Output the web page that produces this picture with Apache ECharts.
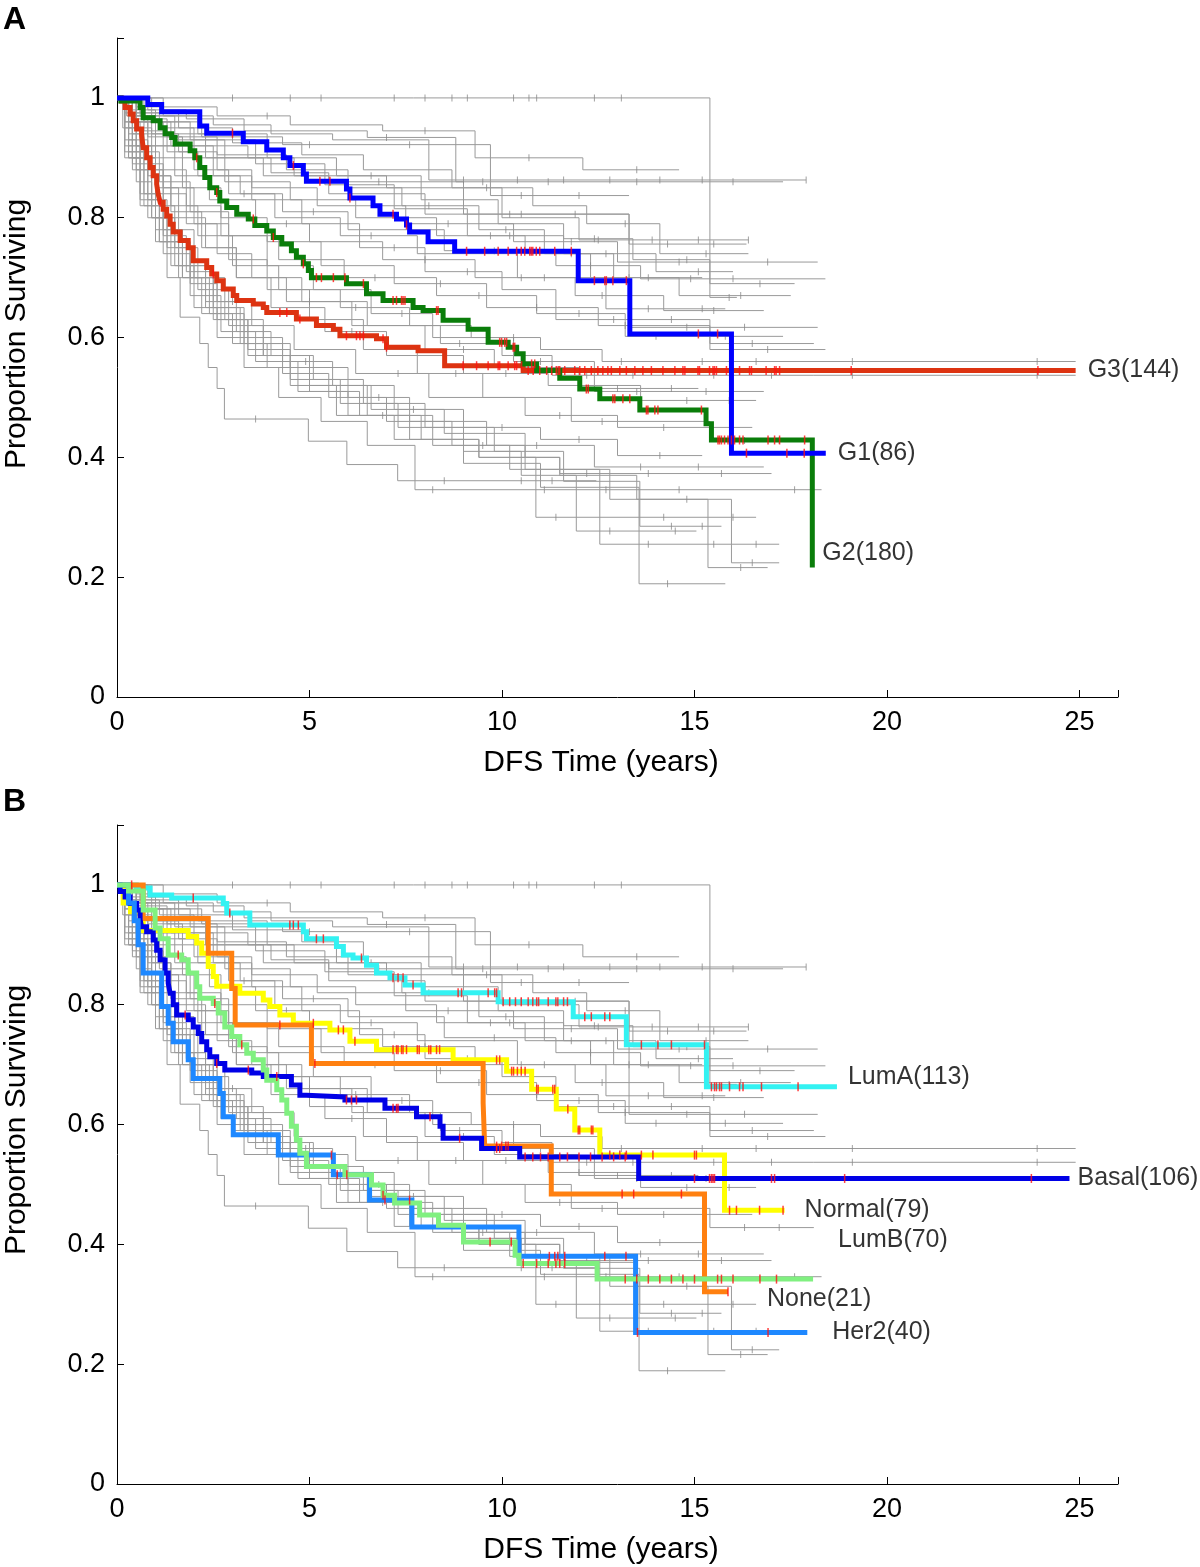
<!DOCTYPE html>
<html><head><meta charset="utf-8">
<script src="https://cdn.jsdelivr.net/npm/echarts@6/dist/echarts.min.js"></script>
<style>html,body{margin:0;padding:0;background:#fff}#c{width:1200px;height:1567px}</style>
</head><body><div id="c"></div>
<script>
// ---------- background (gray) Kaplan-Meier curves: [time, survival after step] ----------
const grayCurves = [
 [[0,1],[15.4,0.667],[16.1,0.667]],
 [[0,1],[0.5,0.985],[1.2,0.97],[2.5,0.955],[4.0,0.94],[5.6,0.93],[8.1,0.863],[17.9,0.863]],
 [[0,1],[0.8,0.98],[1.8,0.965],[3.3,0.945],[6.5,0.934],[8.8,0.86],[17.3,0.86]],
 [[0,1],[0.3,0.98],[1.0,0.96],[2.2,0.935],[4.3,0.922],[9.7,0.837],[13.3,0.837]],
 [[0,1],[0.4,0.975],[1.1,0.95],[2.0,0.92],[3.4,0.9],[4.6,0.87],[7.0,0.85],[10.0,0.8],[12.0,0.763],[16.4,0.763]],
 [[0,1],[0.6,0.97],[1.5,0.93],[2.8,0.9],[4.0,0.875],[5.5,0.86],[9.0,0.806],[13.3,0.756],[16.35,0.756]],
 [[0,1],[0.3,0.97],[0.9,0.94],[1.6,0.91],[2.6,0.88],[3.5,0.85],[5.2,0.82],[7.5,0.79],[10.3,0.76],[13.0,0.726],[18.2,0.726]],
 [[0,1],[0.2,0.975],[0.7,0.945],[1.3,0.91],[2.1,0.87],[3.2,0.84],[4.3,0.81],[6.0,0.78],[8.5,0.745],[11.4,0.72],[13.6,0.698],[18.4,0.698]],
 [[0,1],[0.5,0.96],[1.2,0.92],[2.0,0.88],[2.9,0.84],[4.1,0.8],[5.8,0.77],[7.8,0.74],[10.4,0.7],[12.7,0.648],[15.8,0.648]],
 [[0,1],[0.3,0.96],[0.8,0.92],[1.5,0.87],[2.4,0.83],[3.6,0.79],[5.0,0.76],[6.9,0.73],[9.3,0.7],[11.9,0.67],[14.2,0.645],[16.8,0.645]],
 [[0,1],[0.4,0.97],[1.0,0.94],[2.3,0.9],[3.8,0.87],[5.5,0.84],[8.0,0.806],[13.3,0.617],[18.2,0.617]],
 [[0,1],[0.2,0.96],[0.6,0.91],[1.1,0.86],[1.9,0.81],[2.9,0.77],[4.2,0.73],[5.9,0.7],[8.3,0.67],[10.9,0.64],[13.2,0.602],[17.3,0.602]],
 [[0,1],[0.3,0.95],[0.9,0.9],[1.7,0.85],[2.7,0.8],[3.9,0.76],[5.3,0.72],[7.2,0.69],[9.6,0.65],[12.5,0.62],[15.4,0.59],[18.1,0.59]],
 [[0,1],[0.5,0.96],[1.4,0.92],[2.5,0.87],[3.5,0.83],[4.8,0.79],[6.3,0.75],[8.0,0.71],[10.0,0.68],[11.4,0.63],[15.4,0.58],[18.4,0.58]],
 [[0,1],[0.2,0.96],[0.5,0.92],[0.9,0.87],[1.4,0.82],[2.1,0.77],[3.0,0.72],[4.2,0.68],[5.8,0.65],[7.6,0.62],[9.2,0.6],[11.0,0.58],[12.6,0.56],[24.9,0.56]],
 [[0,1],[0.3,0.94],[0.7,0.89],[1.2,0.84],[1.8,0.79],[2.6,0.74],[3.5,0.7],[4.8,0.66],[6.5,0.62],[8.4,0.59],[10.0,0.57],[11.3,0.537],[24.9,0.537]],
 [[0,1],[0.2,0.95],[0.6,0.9],[1.0,0.85],[1.6,0.8],[2.3,0.75],[3.1,0.7],[4.4,0.66],[6.1,0.62],[8.0,0.58],[9.8,0.55],[12.0,0.515],[15.1,0.515]],
 [[0,1],[0.4,0.94],[1.0,0.88],[1.8,0.82],[2.7,0.77],[3.9,0.72],[5.1,0.68],[6.6,0.64],[8.2,0.6],[10.3,0.56],[12.4,0.51],[16.8,0.51]],
 [[0,1],[0.3,0.93],[0.8,0.87],[1.4,0.81],[2.2,0.75],[3.1,0.7],[4.0,0.65],[5.4,0.61],[7.0,0.57],[9.0,0.54],[11.2,0.52],[13.6,0.495],[16.6,0.495]],
 [[0,1],[0.2,0.93],[0.5,0.86],[0.9,0.8],[1.3,0.75],[1.9,0.7],[2.6,0.66],[3.5,0.62],[4.6,0.58],[6.2,0.54],[8.1,0.5],[10.6,0.47],[13.0,0.45],[16.5,0.45]],
 [[0,1],[0.5,0.92],[1.2,0.85],[2.0,0.79],[2.9,0.73],[3.9,0.68],[5.0,0.63],[6.4,0.58],[7.8,0.54],[9.5,0.5],[11.8,0.46],[15.4,0.428],[18.1,0.428]],
 [[0,1],[0.3,0.92],[0.7,0.84],[1.2,0.77],[1.8,0.71],[2.5,0.65],[3.3,0.6],[4.3,0.56],[5.6,0.52],[7.2,0.48],[9.0,0.45],[11.0,0.43],[13.0,0.403],[15.2,0.403]],
 [[0,1],[0.2,0.91],[0.6,0.83],[1.1,0.76],[1.7,0.7],[2.4,0.64],[3.3,0.59],[4.5,0.55],[6.0,0.5],[7.6,0.46],[9.6,0.42],[12.4,0.384],[16.8,0.384]],
 [[0,1],[0.4,0.9],[0.9,0.82],[1.5,0.75],[2.1,0.68],[2.9,0.62],[3.8,0.57],[5.0,0.52],[6.6,0.48],[8.5,0.44],[10.6,0.4],[11.5,0.373],[17.0,0.373]],
 [[0,1],[0.15,0.95],[0.4,0.89],[0.7,0.82],[1.0,0.76],[1.3,0.7],[1.64,0.634],[2.15,0.59],[2.37,0.55],[2.6,0.515],[2.79,0.464],[4.97,0.427],[5.97,0.388],[7.29,0.361],[12.45,0.361]],
 [[0,1],[0.3,0.9],[0.8,0.8],[1.4,0.72],[2.0,0.65],[2.6,0.6],[3.3,0.55],[4.2,0.5],[5.3,0.46],[6.5,0.42],[7.74,0.346],[18.3,0.346]],
 [[0,1],[0.2,0.92],[0.6,0.84],[1.1,0.76],[1.6,0.7],[2.2,0.64],[3.0,0.59],[3.9,0.55],[5.0,0.51],[6.3,0.47],[7.9,0.43],[9.4,0.4],[10.88,0.3],[16.6,0.3]],
 [[0,1],[0.4,0.9],[1.0,0.8],[1.6,0.72],[2.3,0.66],[3.1,0.61],[4.0,0.57],[5.1,0.53],[6.4,0.49],[8.0,0.45],[9.8,0.41],[11.6,0.36],[13.58,0.285],[15.7,0.285]],
 [[0,1],[0.3,0.91],[0.8,0.83],[1.3,0.76],[1.9,0.69],[2.6,0.63],[3.4,0.58],[4.5,0.53],[5.8,0.49],[7.3,0.45],[9.0,0.41],[10.5,0.37],[11.93,0.277],[15.05,0.277]],
 [[0,1],[0.5,0.88],[1.2,0.78],[2.0,0.7],[2.8,0.63],[3.8,0.57],[5.0,0.52],[6.5,0.47],[8.2,0.42],[10.2,0.38],[12.54,0.255],[17.2,0.255]],
 [[0,1],[0.2,0.9],[0.6,0.82],[1.2,0.74],[1.9,0.67],[2.7,0.61],[3.6,0.56],[4.7,0.51],[6.0,0.47],[7.6,0.43],[9.4,0.4],[11.5,0.37],[13.5,0.33],[15.96,0.224],[17.2,0.224]],
 [[0,1],[0.3,0.9],[0.9,0.8],[1.5,0.72],[2.3,0.65],[3.2,0.59],[4.3,0.54],[5.5,0.5],[7.0,0.46],[8.7,0.42],[10.6,0.38],[12.8,0.33],[15.35,0.216],[16.9,0.216]],
 [[0,1],[0.4,0.88],[1.0,0.78],[1.7,0.7],[2.5,0.63],[3.4,0.57],[4.5,0.52],[5.7,0.47],[7.2,0.43],[9.0,0.39],[11.0,0.35],[13.56,0.189],[15.8,0.189]],
 [[0,1],[0.6,0.975],[1.6,0.95],[3.0,0.925],[4.8,0.905],[6.4,0.88],[8.7,0.85],[10.8,0.82],[12.2,0.79],[14.1,0.74],[16.4,0.74]],
 [[0,1],[0.9,0.97],[2.1,0.94],[3.9,0.9],[5.7,0.87],[7.9,0.83],[9.9,0.79],[11.6,0.765],[13.4,0.73],[15.4,0.69],[17.6,0.69]],
 [[0,1],[0.4,0.965],[1.3,0.935],[2.6,0.905],[4.4,0.88],[6.0,0.85],[7.4,0.82],[9.4,0.78],[11.1,0.74],[12.9,0.7],[15.2,0.7]],
 [[0,1],[0.7,0.96],[1.9,0.93],[3.6,0.89],[5.4,0.855],[7.2,0.815],[9.1,0.77],[11.6,0.74],[14.0,0.71],[16.0,0.71]],
 [[0,1],[0.25,0.97],[0.8,0.935],[1.7,0.9],[2.8,0.86],[4.5,0.83],[6.2,0.8],[8.3,0.77],[10.6,0.74],[12.3,0.7],[14.6,0.67],[17.5,0.67]],
 [[0,1],[1.2,0.985],[2.6,0.97],[4.5,0.955],[6.9,0.945],[9.3,0.9],[12.1,0.88],[14.6,0.88]]
];
const grayCensor = [
 [3.0,4.5,5.3,7.2,8.0,8.7,9.1,10.3,10.7,10.9,12.4,13.1,15.9],
 [9.0,10.4,11.6,12.8,14.1,15.2,17.9],
 [7.0,9.5,11.2,13.5,16.0],
 [5.0,7.6,10.5,12.0],
 [12.5,13.9,15.1,16.4],
 [6.8,10.2,14.3,15.5],
 [8.6,11.8,14.6,16.9],
 [5.1,9.8,12.3,14.9,16.0],
 [3.3,6.6,11.1,13.8,15.2],
 [4.4,8.0,10.5,12.6,15.5],
 [10.5,11.9,14.8,16.3],
 [6.7,9.4,12.0,14.0,15.8],
 [8.4,10.9,13.2,16.5],
 [7.2,9.1,12.9,14.4,16.9],
 [6.2,10.3,13.1,15.2,16.6,19.1,23.9],
 [8.9,12.2,13.4,15.5,17.0,19.1,23.9],
 [5.0,9.0,13.0,14.4],
 [7.4,11.0,13.5,15.3],
 [6.1,10.1,12.0,14.8,15.9],
 [3.0,7.3,11.5,14.2],
 [8.8,12.6,16.3,17.2],
 [4.9,10.0,12.0,14.1],
 [6.8,10.9,13.6,15.1],
 [7.7,12.2,13.8,15.7],
 [3.6,8.5,10.5,11.3],
 [8.2,11.1,12.7,14.6,17.6],
 [11.4,14.2,16.0],
 [14.4,15.2],
 [12.8,14.5],
 [13.8,15.5,16.6],
 [6.9,14.8,16.5],
 [9.5,16.2],
 [14.3],
 [9.6,13.2,15.3],
 [6.6,12.4,14.8,16.7],
 [8.1,10.1,13.8],
 [10.2,12.7,15.1],
 [9.7,11.8,13.3,16.2],
 [3.9,8.0,10.7,13.5]
];

// ---------- Panel A: grade ----------
const g1Curve = [[0,1],[0.8,0.989],[1.16,0.977],[2.15,0.953],[2.33,0.941],[3.28,0.927],[3.89,0.913],[4.32,0.9],[4.49,0.887],[4.84,0.873],[4.92,0.861],[5.96,0.848],[6.05,0.833],[6.65,0.82],[6.83,0.806],[7.26,0.798],[7.52,0.788],[7.6,0.776],[8.08,0.76],[8.77,0.744],[11.98,0.695],[13.32,0.606],[15.96,0.407],[18.41,0.407]];
const g2Curve = [[0,1],[0.1,0.995],[0.6,0.984],[0.68,0.967],[0.94,0.962],[1.12,0.95],[1.25,0.94],[1.42,0.934],[1.51,0.923],[1.9,0.912],[2.02,0.9],[2.15,0.884],[2.28,0.867],[2.41,0.85],[2.59,0.842],[2.67,0.828],[2.85,0.817],[3.11,0.806],[3.41,0.798],[3.58,0.787],[3.89,0.778],[4.06,0.767],[4.28,0.756],[4.53,0.745],[4.66,0.734],[4.84,0.723],[4.97,0.712],[5.05,0.7],[5.96,0.69],[6.48,0.673],[6.91,0.662],[7.69,0.65],[7.95,0.645],[8.47,0.629],[9.12,0.614],[9.64,0.592],[10.16,0.584],[10.38,0.573],[10.55,0.556],[10.9,0.545],[11.5,0.532],[12.02,0.514],[12.54,0.498],[13.58,0.479],[15.3,0.456],[15.44,0.429],[18.06,0.429],[18.06,0.216]];
const g3Curve = [[0,1],[0.12,0.995],[0.21,0.984],[0.34,0.973],[0.42,0.962],[0.51,0.948],[0.64,0.937],[0.68,0.917],[0.77,0.9],[0.86,0.884],[0.94,0.87],[1.03,0.856],[1.07,0.839],[1.12,0.826],[1.2,0.814],[1.29,0.803],[1.38,0.789],[1.46,0.776],[1.64,0.762],[1.85,0.75],[1.98,0.728],[2.33,0.717],[2.46,0.706],[2.59,0.695],[2.76,0.681],[3.02,0.67],[3.11,0.662],[3.54,0.656],[3.8,0.65],[3.89,0.642],[4.66,0.631],[5.18,0.62],[5.62,0.614],[5.79,0.603],[6.74,0.598],[7.0,0.584],[7.82,0.578],[8.51,0.553],[10.55,0.545],[24.9,0.545]];
const g1Censor = [3.0,4.58,5.27,5.53,6.05,7.17,7.52,9.08,9.55,9.9,10.16,10.38,10.5,10.59,10.72,10.76,10.8,10.89,10.98,11.37,11.8,12.4,12.67,12.71,12.88,13.23,15.1,15.6,16.35,17.4,17.85];
const g2Censor = [2.07,2.59,3.54,4.06,4.84,5.18,5.31,5.62,5.92,6.4,7.17,7.26,7.39,7.43,7.48,8.3,8.34,9.94,9.99,10.07,10.12,10.29,10.33,10.77,10.85,12.19,12.24,12.88,12.93,13.14,13.32,13.75,13.79,13.97,14.05,15.18,15.61,15.65,15.7,15.78,15.87,15.96,16.04,16.17,16.26,16.91,17.08,17.21,17.86];
const g3Censor = [1.12,2.5,4.23,4.41,4.75,5.96,6.22,6.31,6.4,6.91,7.0,8.99,9.34,9.64,9.9,9.94,10.16,10.33,10.38,10.51,10.68,10.81,10.98,11.16,11.29,11.41,11.46,11.5,11.63,11.89,12.02,12.15,12.32,12.49,12.62,12.75,12.84,13.06,13.23,13.45,13.66,13.88,14.18,14.49,14.7,14.75,15.09,15.13,15.39,15.48,15.52,15.57,15.83,16.17,16.43,16.48,16.86,17.08,17.12,17.21,19.07,23.92];

// ---------- Panel B: subtype ----------
const lumACurve = [[0,1],[0.5,0.995],[0.86,0.983],[1.42,0.978],[2.76,0.969],[2.85,0.953],[3.45,0.933],[4.84,0.922],[4.92,0.91],[5.7,0.897],[5.88,0.883],[6.13,0.878],[6.48,0.866],[6.74,0.853],[7.09,0.845],[7.48,0.833],[7.95,0.82],[9.9,0.805],[11.85,0.78],[13.23,0.733],[15.31,0.663],[18.7,0.663]];
const basalCurve = [[0,1],[0.08,0.989],[0.21,0.98],[0.34,0.969],[0.51,0.958],[0.6,0.942],[0.64,0.93],[0.77,0.922],[0.94,0.908],[1.03,0.891],[1.12,0.875],[1.25,0.853],[1.33,0.836],[1.38,0.819],[1.46,0.8],[1.55,0.783],[1.85,0.775],[1.98,0.763],[2.11,0.752],[2.2,0.738],[2.33,0.725],[2.41,0.713],[2.59,0.702],[2.8,0.691],[3.5,0.686],[3.8,0.68],[4.53,0.666],[4.75,0.649],[4.92,0.646],[5.92,0.641],[6.96,0.627],[7.78,0.613],[8.39,0.597],[8.47,0.577],[9.47,0.56],[10.46,0.546],[13.55,0.51],[24.74,0.51]];
const normalCurve = [[0,1],[0.16,0.97],[0.35,0.955],[0.6,0.944],[0.68,0.924],[1.85,0.914],[2.07,0.903],[2.2,0.886],[2.37,0.864],[2.5,0.847],[2.59,0.831],[3.19,0.819],[3.8,0.808],[3.97,0.797],[4.23,0.783],[4.58,0.769],[5.53,0.758],[6.05,0.739],[6.74,0.725],[8.73,0.708],[10.12,0.689],[10.77,0.659],[11.41,0.626],[11.89,0.591],[12.54,0.549],[15.78,0.457],[17.34,0.457]];
const lumBCurve = [[0,1],[0.3,0.99],[0.68,0.958],[0.99,0.928],[1.12,0.91],[1.33,0.883],[1.68,0.875],[1.85,0.853],[2.07,0.83],[2.15,0.811],[2.5,0.802],[2.63,0.786],[2.8,0.763],[2.98,0.747],[3.19,0.733],[3.37,0.719],[3.54,0.708],[3.8,0.691],[3.89,0.674],[4.15,0.658],[4.28,0.641],[4.41,0.619],[4.53,0.597],[4.66,0.574],[4.75,0.552],[4.92,0.53],[5.92,0.516],[6.61,0.499],[6.91,0.482],[7.21,0.469],[7.86,0.449],[8.35,0.432],[9.0,0.404],[10.34,0.382],[10.44,0.368],[12.47,0.342],[18.08,0.342]];
const noneCurve = [[0,1],[0.68,0.944],[2.37,0.886],[2.98,0.827],[3.07,0.766],[5.05,0.702],[9.51,0.636],[9.55,0.564],[11.28,0.484],[15.26,0.321],[15.87,0.321]];
const her2Curve = [[0,1],[0.3,0.97],[0.45,0.94],[0.55,0.9],[0.68,0.853],[1.16,0.797],[1.33,0.769],[1.46,0.738],[1.85,0.708],[1.98,0.677],[2.67,0.652],[2.76,0.613],[3.02,0.583],[4.19,0.549],[5.62,0.516],[6.56,0.474],[7.66,0.429],[10.44,0.38],[13.47,0.253],[17.93,0.253]];
const lumACensor = [1.98,2.93,4.49,4.58,4.71,5.18,5.36,6.35,7.17,7.3,7.43,7.69,8.86,8.95,9.64,9.81,9.86,10.03,10.2,10.35,10.5,10.68,10.8,10.9,10.95,11.2,11.4,11.45,11.6,11.7,12.15,12.32,12.67,12.8,13.62,14.05,14.4,15.26,15.44,15.52,15.57,15.65,15.7,15.91,16.17,16.26,16.74,17.69];
const basalCensor = [1.77,2.59,3.41,4.15,5.96,6.09,6.22,7.17,7.26,7.3,8.13,8.9,9.86,9.94,10.6,10.8,11.0,11.2,11.5,11.7,12.0,12.3,12.6,12.9,13.2,15.0,15.39,15.44,15.48,15.52,17.0,17.08,18.9,23.75];
const normalCensor = [5.1,5.75,5.88,6.18,7.17,7.26,7.3,7.39,7.43,7.52,7.8,7.85,8.1,8.15,8.3,8.38,9.86,9.94,10.25,10.3,10.4,10.5,10.6,10.9,10.94,11.32,11.37,11.71,11.98,12.02,12.32,12.36,12.8,13.06,13.23,13.62,13.92,15.0,15.05,15.91,16.09,16.69,17.3];
const lumBCensor = [1.59,2.54,3.24,6.91,9.69,10.24,10.55,10.9,11.2,11.4,11.5,11.63,13.2,13.5,13.8,14.1,14.4,14.7,15.0,15.6,15.7,16.0,16.7,17.13];
const noneCensor = [0.38,4.23,5.14,9.86,9.99,10.1,10.16,13.12,13.42,14.66,15.87];
const her2Censor = [5.57,5.72,5.97,6.96,7.6,11.23,11.37,11.45,11.63,12.67,13.22,13.52,16.91];

const xTicks = [0,5,10,15,20,25];
const yTicks = [0,0.2,0.4,0.6,0.8,1];

// group definitions: name, curve, censor, colour, label offset
const panelA = [
  {name:'G3(144)', curve:g3Curve, cens:g3Censor, color:'#dd3311', off:[12,0]},
  {name:'G2(180)', curve:g2Curve, cens:g2Censor, color:'#0a7d0a', off:[10,-14]},
  {name:'G1(86)',  curve:g1Curve, cens:g1Censor, color:'#0000ff', off:[12,0]}
];
const panelB = [
  {name:'LumA(113)', curve:lumACurve, cens:lumACensor, color:'#33f2f2', off:[11,-10]},
  {name:'Normal(79)', curve:normalCurve, cens:normalCensor, color:'#ffff00', off:[20,0]},
  {name:'None(21)', curve:noneCurve, cens:noneCensor, color:'#ff8010', off:[39,7]},
  {name:'Basal(106)', curve:basalCurve, cens:basalCensor, color:'#0000e6', off:[8,0]},
  {name:'Her2(40)', curve:her2Curve, cens:her2Censor, color:'#1e88ff', off:[25,0]},
  {name:'LumB(70)', curve:lumBCurve, cens:lumBCensor, color:'#80f080', off:[25,-39]}
];

function survAt(curve, t){ let s = curve[0][1]; for (const p of curve){ if (p[0] <= t) s = p[1]; else break; } return s; }

const FONT = '"Liberation Sans", Arial, Helvetica, sans-serif';
const chart = echarts.init(document.getElementById('c'), null, {renderer:'canvas'});

function axisPair(idx){
  const x = {gridIndex:idx, type:'value', min:0, max:26, interval:5,
    axisLine:{show:true, onZero:false, lineStyle:{color:'#000', width:1}},
    axisTick:{show:true, inside:true, length:7, lineStyle:{color:'#000'}},
    axisLabel:{fontSize:27, color:'#000', fontFamily:FONT, margin:12,
      formatter:v => xTicks.indexOf(Math.round(v*1000)/1000) >= 0 ? String(Math.round(v)) : ''},
    splitLine:{show:false}};
  const y = {gridIndex:idx, type:'value', min:0, max:1.1, interval:0.2,
    axisLine:{show:true, onZero:false, lineStyle:{color:'#000', width:1}},
    axisTick:{show:true, inside:true, length:7, lineStyle:{color:'#000'}},
    axisLabel:{fontSize:27, color:'#000', fontFamily:FONT, margin:12,
      formatter:v => { const r = Math.round(v*100)/100; if (yTicks.indexOf(r) < 0) return ''; return r === 0 ? '0' : (r === 1 ? '1' : r.toFixed(1)); }},
    splitLine:{show:false}};
  return [x, y];
}
const [xa, ya] = axisPair(0);
const [xb, yb] = axisPair(1);

const series = [];
function addPanel(idx, groups){
  grayCurves.forEach(c => series.push({type:'line', xAxisIndex:idx, yAxisIndex:idx, data:c, step:'end', symbol:'none', silent:true,
    lineStyle:{color:'#9a9a9a', width:1}, z:1}));
  const gc = [];
  grayCurves.forEach((c,i) => grayCensor[i].forEach(t => gc.push([t, survAt(c,t)])));
  series.push({type:'scatter', xAxisIndex:idx, yAxisIndex:idx, data:gc, symbol:'rect', symbolSize:[1,7], silent:true,
    itemStyle:{color:'#8a8a8a'}, z:2});
  groups.forEach(g => {
    series.push({type:'line', xAxisIndex:idx, yAxisIndex:idx, data:g.curve, step:'end', symbol:'none', silent:true,
      lineStyle:{color:g.color, width:5, cap:'butt', join:'miter'}, z:3});
  });
  groups.forEach(g => {
    series.push({type:'scatter', xAxisIndex:idx, yAxisIndex:idx, data:g.cens.map(t => [t, survAt(g.curve,t)]),
      symbol:'rect', symbolSize:[1.5,9], silent:true, itemStyle:{color:'#ff1010'}, z:4});
    const last = g.curve[g.curve.length-1];
    series.push({type:'scatter', xAxisIndex:idx, yAxisIndex:idx, data:[last], symbolSize:0, silent:true, z:5,
      label:{show:true, position:'right', distance:0, offset:g.off, formatter:g.name, fontSize:25, color:'#000', fontFamily:FONT}});
  });
}
addPanel(0, panelA);
addPanel(1, panelB);

function txt(x, y, text, size, extra){
  return Object.assign({type:'text', x:x, y:y, silent:true,
    style:{text:text, fontSize:size, fontFamily:FONT, fill:'#000', textAlign:'center', textVerticalAlign:'middle'}}, extra||{});
}
const graphics = [
  txt(601, 763, 'DFS Time (years)', 30),
  txt(601, 1550, 'DFS Time (years)', 30),
  txt(17, 334, 'Proportion Surviving', 30, {rotation:Math.PI/2}),
  txt(17, 1120, 'Proportion Surviving', 30, {rotation:Math.PI/2}),
  {type:'text', x:3, y:4, silent:true, style:{text:'A', fontSize:32, fontWeight:'bold', fontFamily:FONT, fill:'#000'}},
  {type:'text', x:3, y:786, silent:true, style:{text:'B', fontSize:32, fontWeight:'bold', fontFamily:FONT, fill:'#000'}}
];

chart.setOption({
  animation:false,
  backgroundColor:'#fff',
  grid:[{left:117, top:38, width:1001, height:659}, {left:117, top:825, width:1001, height:659}],
  xAxis:[xa, xb],
  yAxis:[ya, yb],
  series:series,
  graphic:graphics
});
</script></body></html>
